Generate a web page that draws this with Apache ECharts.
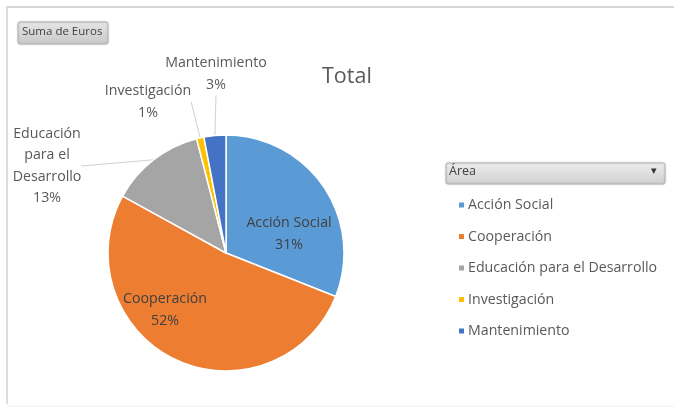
<!DOCTYPE html>
<html><head><meta charset="utf-8">
<script src="https://cdn.jsdelivr.net/npm/echarts@6/dist/echarts.min.js"></script>
<style>html,body{margin:0;padding:0;background:#fff}#c{width:674px;height:410px}</style>
</head><body><div id="c"></div>
<script>
const categories = ['Acción Social', 'Cooperación', 'Educación para el Desarrollo', 'Investigación', 'Mantenimiento'];
const labelNames = ['Acción Social', 'Cooperación', 'Educación\npara el\nDesarrollo', 'Investigación', 'Mantenimiento'];
const values = [31, 52, 13, 1, 3];
const colors = ['#5B9BD5', '#ED7D31', '#A5A5A5', '#FFC000', '#4472C4'];
const insideIdx = [0, 1];

const FONT = '"Open Sans", "Noto Sans", sans-serif';
const labelPos = [[289, 234], [165, 310], [47, 166], [148, 102], [216, 74]];

const chart = echarts.init(document.getElementById('c'), null, {renderer: 'canvas'});
const data = categories.map((c, i) => ({
  name: c, value: values[i],
  itemStyle: {color: colors[i]},
  label: {
    position: insideIdx.includes(i) ? 'inside' : 'outside',
    formatter: labelNames[i] + '\n{d}%',
    color: insideIdx.includes(i) ? '#404040' : '#595959'
  },
  labelLine: {show: !insideIdx.includes(i)}
}));

chart.setOption({
  backgroundColor: '#fff',
  animation: false,
  title: {text: 'Total', left: 317, top: 61, textStyle: {fontFamily: FONT, fontSize: 21.5, fontWeight: 'normal', color: '#595959'}},
  legend: {
    orient: 'vertical', left: 452, top: 193, itemGap: 17.5, itemWidth: 7, itemHeight: 7, icon: 'rect',
    data: categories,
    textStyle: {fontFamily: FONT, fontSize: 14.2, color: '#595959', padding: [0, 0, 0, -2]}
  },
  graphic: [
    {type: 'line', shape: {x1: 6, y1: 7, x2: 674, y2: 7}, style: {stroke: '#d6d6d6', lineWidth: 2}, silent: true},
    {type: 'line', shape: {x1: 7, y1: 7, x2: 7, y2: 404}, style: {stroke: '#dcdcdc', lineWidth: 2}, silent: true},
    {type: 'line', shape: {x1: 7, y1: 406, x2: 674, y2: 406}, style: {stroke: '#f0f0f0', lineWidth: 1}, silent: true},
    {type: 'rect', shape: {x: 18, y: 22, width: 90, height: 22, r: 2},
      style: {fill: new echarts.graphic.LinearGradient(0, 0, 0, 1, [{offset: 0, color: '#e6e6e6'}, {offset: 1, color: '#c8c8c8'}]), stroke: '#b8b8b8', lineWidth: 1, shadowBlur: 2, shadowColor: 'rgba(0,0,0,0.2)'}},
    {type: 'text', left: 22, top: 26, style: {text: 'Suma de Euros', fontFamily: FONT, fontSize: 11.5, fill: '#404040'}},
    {type: 'rect', shape: {x: 446, y: 163, width: 219, height: 21, r: 2},
      style: {fill: new echarts.graphic.LinearGradient(0, 0, 0, 1, [{offset: 0, color: '#ededed'}, {offset: 1, color: '#cfcfcf'}]), stroke: '#b8b8b8', lineWidth: 1, shadowBlur: 2, shadowColor: 'rgba(0,0,0,0.2)'}},
    {type: 'text', left: 449, top: 165, style: {text: 'Área', fontFamily: FONT, fontSize: 12.5, fill: '#404040'}},
    {type: 'text', left: 651, top: 166, style: {text: '▾', fontFamily: 'DejaVu Sans', fontSize: 11, fill: '#333'}}
  ],
  series: [{
    type: 'pie',
    center: [226, 253],
    radius: 118,
    startAngle: 90,
    clockwise: true,
    avoidLabelOverlap: false,
    itemStyle: {borderColor: '#fff', borderWidth: 1.5},
    label: {fontFamily: FONT, fontSize: 14.2, lineHeight: 21.5, align: 'center'},
    labelLine: {lineStyle: {color: '#d0d0d0', width: 1}, length: 12, length2: 0},
    labelLayout: function (p) {
      const pos = labelPos[p.dataIndex];
      return {x: pos[0], y: pos[1], align: 'center', verticalAlign: 'middle'};
    },
    data: data
  }]
});
</script></body></html>
